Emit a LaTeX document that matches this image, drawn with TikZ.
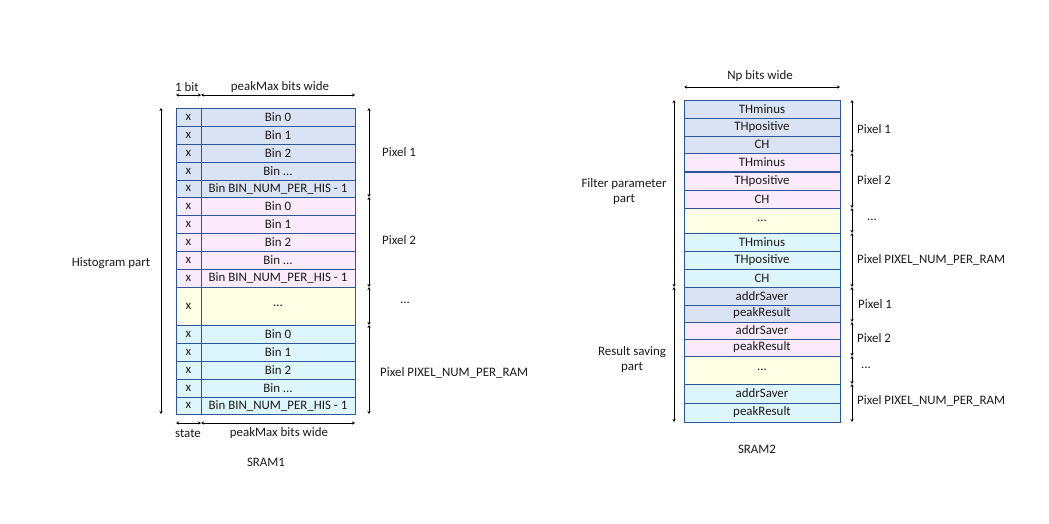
\documentclass[tikz,border=0pt]{standalone}
\usepackage{fontspec}
\setmainfont{Carlito}
\usetikzlibrary{arrows.meta}
\definecolor{cblue}{HTML}{DAE3F3}
\definecolor{cpink}{HTML}{FAEAFB}
\definecolor{cyell}{HTML}{FFFFE6}
\definecolor{ccyan}{HTML}{DDF6FC}
\definecolor{cborder}{HTML}{2F5597}
\definecolor{ctext}{HTML}{1A1A1A}
\newcommand{\tdots}{.\kern0pt.\kern0pt.}
\tikzset{
  cellbase/.style={draw=cborder, line width=0.8pt, inner sep=0pt, outer sep=0pt, anchor=north west, text=ctext, font=\fontsize{12.9}{14}\selectfont},
  xcell/.style={cellbase, minimum width=25pt},
  bcell/.style={cellbase, minimum width=154pt},
  pcell/.style={cellbase, minimum width=156pt},
  dimarr/.style={line width=0.8pt, {Stealth[length=3pt,width=3pt]}-{Stealth[length=3pt,width=3pt]}},
  lbl/.style={text=ctext, inner sep=0pt, font=\fontsize{12.9}{15}\selectfont}
}
\begin{document}
\begin{tikzpicture}[x=1pt,y=-1pt]
\useasboundingbox (0,0) rectangle (1049,524);
% ---------- SRAM1 ----------
\foreach \n/\t/\h/\c/\s in {
  a0/108/18/cblue/Bin 0, a1/126/18/cblue/Bin 1, a2/144/18/cblue/Bin 2, a3/162/18/cblue/Bin \tdots, a4/180/17/cblue/Bin BIN\_NUM\_PER\_HIS - 1,
  b0/197/18/cpink/Bin 0, b1/215/18/cpink/Bin 1, b2/233/18/cpink/Bin 2, b3/251/18/cpink/Bin \tdots, b4/269/18/cpink/Bin BIN\_NUM\_PER\_HIS - 1,
  y0/287/38/cyell/\tdots,
  c0/325/18/ccyan/Bin 0, c1/343/18/ccyan/Bin 1, c2/361/18/ccyan/Bin 2, c3/379/18/ccyan/Bin \tdots, c4/397/17/ccyan/Bin BIN\_NUM\_PER\_HIS - 1}
{
  \node[xcell, fill=\c, minimum height=\h pt] (sx\n) at (176,\t) {x};
  \node[bcell, fill=\c, minimum height=\h pt] (sb\n) at (201,\t) {\s};
}
% top width arrows
\coordinate (t1a) at (176,95); \coordinate (t1b) at (201,95); \coordinate (t1c) at (355,95);
\draw[dimarr] (t1a) -- (t1b);
\draw[dimarr] (t1b) -- (t1c);
\node[lbl] (onebit) at (187,87) {1 bit};
\node[lbl] (pmtop) at (280,87) {peakMax bits wide};
% bottom width arrows
\coordinate (u1a) at (176,423); \coordinate (u1b) at (201,423); \coordinate (u1c) at (355,423);
\draw[dimarr] (u1a) -- (u1b);
\draw[dimarr] (u1b) -- (u1c);
\node[lbl] (state) at (188,433) {state};
\node[lbl] (pmbot) at (279,433) {peakMax bits wide};
\node[lbl] (sram1) at (266,462) {SRAM1};
% histogram part arrow
\coordinate (h1) at (161,108); \coordinate (h2) at (161,414);
\draw[dimarr] (h1) -- (h2);
\node[lbl] (histo) at (111,263) {Histogram part};
% right pixel arrows
\coordinate (r1) at (369,108); \coordinate (r2) at (369,197); \coordinate (r3) at (369,287);
\coordinate (r4) at (369,325); \coordinate (r5) at (369,414);
\draw[dimarr] (r1) -- (r2);
\draw[dimarr] (r2) -- (r3);
\draw[dimarr] (r3) -- (r4);
\draw[dimarr] (r4) -- (r5);
\node[lbl, anchor=west] (p1a) at (382,152) {Pixel 1};
\node[lbl, anchor=west] (p2a) at (382,240) {Pixel 2};
\node[lbl] (pda) at (405,303) {\tdots};
\node[lbl, anchor=west] (pna) at (380,373) {Pixel PIXEL\_NUM\_PER\_RAM};
% ---------- SRAM2 ----------
\foreach \n/\t/\h/\c/\s in {
  f0/100/18/cblue/THminus, f1/118/18/cblue/THpositive, f2/136/17/cblue/CH,
  f3/153/19/cpink/THminus, f4/172/18/cpink/THpositive, f5/190/18/cpink/CH,
  f6/208/25/cyell/\tdots,
  f7/233/18/ccyan/THminus, f8/251/18/ccyan/THpositive, f9/269/18/ccyan/CH,
  g0/287/18/cblue/addrSaver, g1/305/17/cblue/peakResult,
  g2/322/17/cpink/addrSaver, g3/339/17/cpink/peakResult,
  g4/356/28/cyell/\tdots,
  g5/384/19/ccyan/addrSaver, g6/403/19/ccyan/peakResult}
{
  \node[pcell, fill=\c, minimum height=\h pt] (s2\n) at (684,\t) {\s};
}
\draw[cborder, line width=1.4pt] (s2f4.north west) -- (s2f4.north east);
% top width arrow
\coordinate (w1) at (684,87); \coordinate (w2) at (840,87);
\draw[dimarr] (w1) -- (w2);
\node[lbl] (npw) at (760,76) {Np bits wide};
\node[lbl] (sram2) at (757,449) {SRAM2};
% left part arrows
\coordinate (l1) at (674,100); \coordinate (l2) at (674,287); \coordinate (l3) at (674,422);
\draw[dimarr] (l1) -- (l2);
\draw[dimarr] (l2) -- (l3);
\node[lbl, align=center] (filt) at (624,192) {Filter parameter\\part};
\node[lbl, align=center] (ress) at (632,359.5) {Result saving\\part};
% right pixel arrows
\coordinate (q1) at (852,100); \coordinate (q2) at (852,153); \coordinate (q3) at (852,208);
\coordinate (q4) at (852,233); \coordinate (q5) at (852,287); \coordinate (q6) at (852,322);
\coordinate (q7) at (852,356); \coordinate (q8) at (852,384); \coordinate (q9) at (852,422);
\draw[dimarr] (q1) -- (q2);
\draw[dimarr] (q2) -- (q3);
\draw[dimarr] (q3) -- (q4);
\draw[dimarr] (q4) -- (q5);
\draw[dimarr] (q5) -- (q6);
\draw[dimarr] (q6) -- (q7);
\draw[dimarr] (q7) -- (q8);
\draw[dimarr] (q8) -- (q9);
\node[lbl, anchor=west] (p1b) at (857,129) {Pixel 1};
\node[lbl, anchor=west] (p2b) at (857,180) {Pixel 2};
\node[lbl] (pdb) at (872,220) {\tdots};
\node[lbl, anchor=west] (pnb) at (857,260) {Pixel PIXEL\_NUM\_PER\_RAM};
\node[lbl, anchor=west] (p1c) at (858,304) {Pixel 1};
\node[lbl, anchor=west] (p2c) at (857,338) {Pixel 2};
\node[lbl] (pdc) at (866,368) {\tdots};
\node[lbl, anchor=west] (pnc) at (857,401) {Pixel PIXEL\_NUM\_PER\_RAM};
\end{tikzpicture}
\end{document}
